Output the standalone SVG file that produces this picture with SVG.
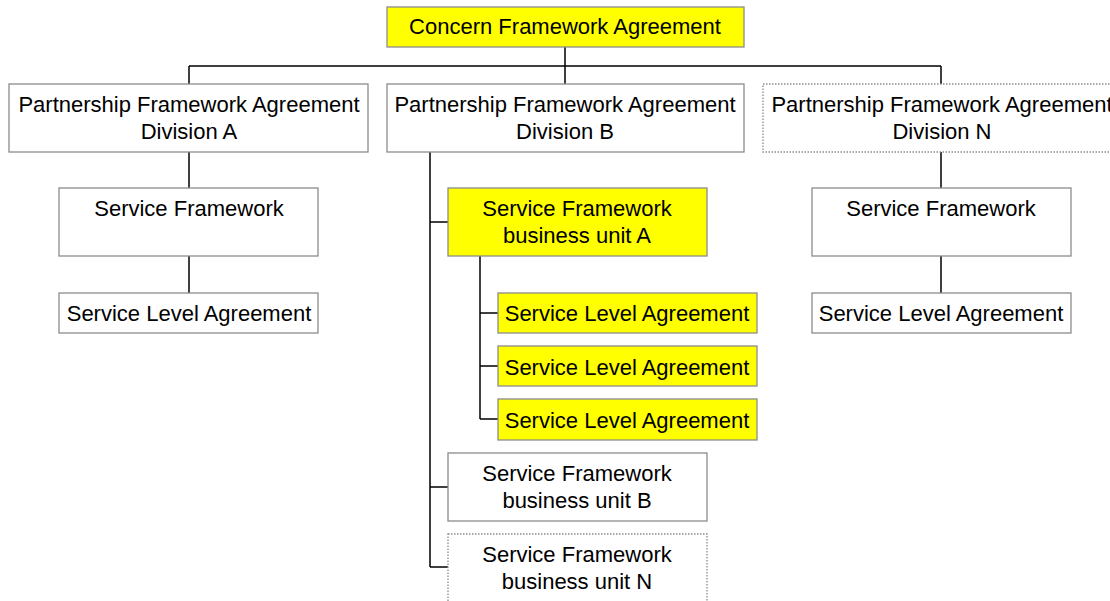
<svg xmlns="http://www.w3.org/2000/svg" width="1110" height="601" viewBox="0 0 1110 601">
<style>
.box{fill:#ffffff;stroke:#8c8c8c;stroke-width:1.3}
.hl{fill:#ffff00;stroke:#8c8c8c;stroke-width:1.3}
.dot{fill:#ffffff;stroke:#8c8c8c;stroke-width:1.3;stroke-dasharray:1.5 1.5}
.conn{fill:none;stroke:#000000;stroke-width:1.5}
text{font-family:"Liberation Sans",Arial,sans-serif;font-size:22px;fill:#000000;text-anchor:middle}
</style>
<rect width="1110" height="601" fill="#ffffff"/>
<g id="connectors">
<path class="conn" d="M565,47V66M189,66H941M189,66V84M565,66V84M941,66V84"/>
<path class="conn" d="M189,152V188M189,256V293"/>
<path class="conn" d="M941,152V188M941,256V293"/>
<path class="conn" d="M430,152V567M430,222H448M430,487H448M430,567H448"/>
<path class="conn" d="M480,256V419M480,313H498M480,366H498M480,419H498"/>
</g>
<g id="n-concern"><rect class="hl" x="387" y="7" width="357" height="40"/><text x="565" y="34">Concern Framework Agreement</text></g>
<g id="n-divA"><rect class="box" x="9" y="84" width="359" height="68"/><text x="189" y="112">Partnership Framework Agreement</text><text x="189" y="139">Division A</text></g>
<g id="n-divB"><rect class="box" x="387" y="84" width="357" height="68"/><text x="565" y="112">Partnership Framework Agreement</text><text x="565" y="139">Division B</text></g>
<g id="n-divN"><rect class="dot" x="763" y="84" width="358" height="68"/><text x="942" y="112">Partnership Framework Agreement</text><text x="942" y="139">Division N</text></g>
<g id="n-sfA"><rect class="box" x="59" y="188" width="259" height="68"/><text x="189" y="216">Service Framework</text></g>
<g id="n-slaA"><rect class="box" x="59" y="293" width="259" height="40"/><text x="189" y="321">Service Level Agreement</text></g>
<g id="n-sfN"><rect class="box" x="812" y="188" width="259" height="68"/><text x="941" y="216">Service Framework</text></g>
<g id="n-slaN"><rect class="box" x="812" y="293" width="259" height="40"/><text x="941" y="321">Service Level Agreement</text></g>
<g id="n-sfBuA"><rect class="hl" x="448" y="188" width="259" height="68"/><text x="577" y="216">Service Framework</text><text x="577" y="243">business unit A</text></g>
<g id="n-sla1"><rect class="hl" x="498" y="293" width="259" height="40"/><text x="627" y="321">Service Level Agreement</text></g>
<g id="n-sla2"><rect class="hl" x="498" y="346" width="259" height="40"/><text x="627" y="375">Service Level Agreement</text></g>
<g id="n-sla3"><rect class="hl" x="498" y="399" width="259" height="41"/><text x="627" y="428">Service Level Agreement</text></g>
<g id="n-sfBuB"><rect class="box" x="448" y="453" width="259" height="68"/><text x="577" y="481">Service Framework</text><text x="577" y="508">business unit B</text></g>
<g id="n-sfBuN"><rect class="dot" x="448" y="534" width="259" height="70"/><text x="577" y="562">Service Framework</text><text x="577" y="589">business unit N</text></g>
</svg>
